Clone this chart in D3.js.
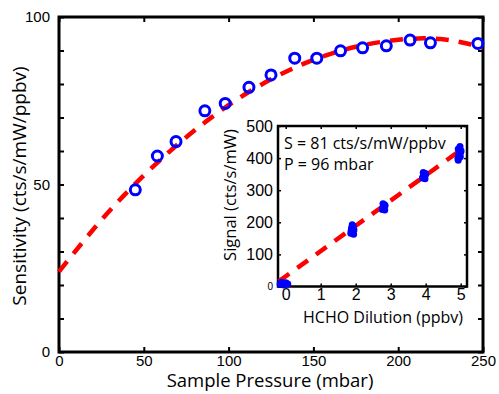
<!DOCTYPE html>
<html>
<head>
<meta charset="utf-8">
<script src="https://cdn.jsdelivr.net/npm/d3@7"></script>
<style>
  body { margin: 0; background: #fff; }
  svg { font-family: "Open Sans", sans-serif; }
  .axis text { font-size: 15px; fill: #000; }
</style>
</head>
<body>
<svg width="499" height="394"></svg>
<script>
// main plot: sensitivity vs sample pressure
var pressure = [45, 58, 69, 86, 98, 112, 125, 139, 152, 166, 179, 193, 207, 219, 247];
var sensitivity = [48.4, 58.5, 62.8, 72.0, 74.2, 79.0, 82.7, 87.7, 87.7, 89.9, 90.8, 91.4, 93.1, 92.3, 92.1];

// fitted curve
var fitPressure = [0, 25, 50, 75, 100, 125, 150, 175, 200, 225, 250];
var fitSensitivity = [24, 39.4, 52.7, 64.1, 73.7, 81.4, 87.2, 91.1, 93.2, 93.4, 91.0];

var xTicks = [0, 50, 100, 150, 200, 250];
var yTicks = [0, 10, 20, 30, 40, 50, 60, 70, 80, 90, 100];
var yLabels = [0, 50, 100];

// inset: signal vs HCHO dilution (clusters of repeated readings)
var dilution = [-0.16, -0.1, -0.04, 0.02, 0.06, -0.12, -0.06, 0.0,
                1.86, 1.91, 1.95, 1.88, 1.93, 1.87, 1.94, 1.9, 1.92,
                2.76, 2.8, 2.84, 2.78, 2.83, 2.8, 2.77, 2.82,
                3.91, 3.95, 4.0, 3.93, 3.98, 3.95, 3.92, 3.99,
                4.92, 4.95, 5.0, 4.93, 4.98, 4.95, 5.01, 4.93, 4.97, 4.99];
var signal = [8, 10, 7, 9, 8, 13, 5, 12,
              166, 170, 176, 182, 188, 174, 163, 192, 179,
              240, 246, 252, 258, 238, 250, 244, 255,
              338, 344, 350, 355, 336, 347, 341, 352,
              398, 408, 418, 428, 436, 413, 423, 393, 431, 404];
var fitDilution = [-0.2, 5.0];
var fitSignal = [16, 425];

var insetXTicks = [0, 1, 2, 3, 4, 5];
var insetYTicks = [0, 100, 200, 300, 400, 500];
var insetText = ['S = 81 cts/s/mW/ppbv', 'P = 96 mbar'];

var svg = d3.select('svg');

var x = d3.scaleLinear().domain([0, 250]).range([59, 483]);
var y = d3.scaleLinear().domain([0, 100]).range([352, 17]);

// axes with inward ticks
svg.append('g')
    .attr('class', 'axis')
    .attr('transform', 'translate(0,352)')
    .call(d3.axisBottom(x).tickValues(xTicks).tickSize(-5).tickPadding(3))
    .call(function(g) { g.select('.domain').remove(); });

svg.append('g')
    .attr('class', 'axis')
    .attr('transform', 'translate(0,17)')
    .call(d3.axisTop(x).tickValues(xTicks).tickSize(-5).tickFormat(''))
    .call(function(g) { g.select('.domain').remove(); });

svg.append('g')
    .attr('class', 'axis')
    .attr('transform', 'translate(59,0)')
    .call(d3.axisLeft(y).tickValues(yTicks).tickSize(-5).tickPadding(9)
        .tickFormat(function(d) { return yLabels.indexOf(d) >= 0 ? d : ''; }))
    .call(function(g) { g.select('.domain').remove(); });

svg.append('g')
    .attr('class', 'axis')
    .attr('transform', 'translate(483,0)')
    .call(d3.axisRight(y).tickValues(yTicks).tickSize(-5).tickFormat(''))
    .call(function(g) { g.select('.domain').remove(); });

svg.selectAll('.axis line').attr('stroke', '#000').attr('stroke-width', 2);

svg.append('rect')
    .attr('x', 59).attr('y', 17)
    .attr('width', 483 - 59).attr('height', 352 - 17)
    .attr('fill', 'none')
    .attr('stroke', '#000')
    .attr('stroke-width', 3);

var mainLine = d3.line()
    .x(function(d, i) { return x(fitPressure[i]); })
    .y(function(d, i) { return y(fitSensitivity[i]); })
    .curve(d3.curveNatural);

svg.append('path')
    .datum(fitPressure)
    .attr('d', mainLine)
    .attr('fill', 'none')
    .attr('stroke', '#ff0000')
    .attr('stroke-width', 4.5)
    .attr('stroke-dasharray', '13,10');

svg.append('g')
    .selectAll('circle')
    .data(pressure)
    .enter().append('circle')
    .attr('cx', function(d) { return x(d); })
    .attr('cy', function(d, i) { return y(sensitivity[i]); })
    .attr('r', 5)
    .attr('fill', 'none')
    .attr('stroke', '#0000ff')
    .attr('stroke-width', 3);

svg.append('text')
    .attr('x', 270).attr('y', 387)
    .attr('text-anchor', 'middle')
    .style('font-size', '18.5px')
    .text('Sample Pressure (mbar)');

svg.append('text')
    .attr('transform', 'translate(26,186) rotate(-90)')
    .attr('text-anchor', 'middle')
    .style('font-size', '19px')
    .text('Sensitivity (cts/s/mW/ppbv)');

// inset
var ix = d3.scaleLinear().domain([-0.22, 5.18]).range([278, 467]);
var iy = d3.scaleLinear().domain([0, 500]).range([286.5, 126]);

svg.append('rect')
    .attr('x', 278).attr('y', 126)
    .attr('width', 467 - 278).attr('height', 286.5 - 126)
    .attr('fill', '#fff');

svg.append('g')
    .attr('class', 'axis inset')
    .attr('transform', 'translate(0,286.5)')
    .call(d3.axisBottom(ix).tickValues(insetXTicks).tickSize(-3).tickPadding(2)
        .tickFormat(d3.format('d')))
    .call(function(g) { g.select('.domain').remove(); });

svg.append('g')
    .attr('class', 'axis inset')
    .attr('transform', 'translate(0,126)')
    .call(d3.axisTop(ix).tickValues(insetXTicks).tickSize(-3).tickFormat(''))
    .call(function(g) { g.select('.domain').remove(); });

svg.append('g')
    .attr('class', 'axis inset iy')
    .attr('transform', 'translate(278,0)')
    .call(d3.axisLeft(iy).tickValues(insetYTicks).tickSize(-3).tickPadding(5))
    .call(function(g) { g.select('.domain').remove(); });

svg.append('g')
    .attr('class', 'axis inset')
    .attr('transform', 'translate(467,0)')
    .call(d3.axisRight(iy).tickValues(insetYTicks).tickSize(-3).tickFormat(''))
    .call(function(g) { g.select('.domain').remove(); });

svg.selectAll('.inset text').style('font-size', '16px');
svg.selectAll('.inset line').attr('stroke', '#000').attr('stroke-width', 1.5);
svg.selectAll('.iy text').filter(function(d) { return d === 0; })
    .style('font-size', '10px');

svg.append('rect')
    .attr('x', 278).attr('y', 126)
    .attr('width', 467 - 278).attr('height', 286.5 - 126)
    .attr('fill', 'none')
    .attr('stroke', '#000')
    .attr('stroke-width', 2.5);

svg.append('path')
    .datum(fitDilution)
    .attr('d', d3.line()
        .x(function(d, i) { return ix(fitDilution[i]); })
        .y(function(d, i) { return iy(fitSignal[i]); }))
    .attr('stroke', '#ff0000')
    .attr('stroke-width', 4.5)
    .attr('stroke-dasharray', '13,10');

svg.append('g')
    .selectAll('circle')
    .data(dilution)
    .enter().append('circle')
    .attr('cx', function(d) { return ix(d); })
    .attr('cy', function(d, i) { return iy(signal[i]); })
    .attr('r', 3.5)
    .attr('fill', '#0000ff');

svg.append('g')
    .selectAll('text')
    .data(insetText)
    .enter().append('text')
    .attr('x', 284)
    .attr('y', function(d, i) { return 149 + i * 21; })
    .style('font-size', '16px')
    .text(function(d) { return d; });

svg.append('text')
    .attr('x', 383).attr('y', 323)
    .attr('text-anchor', 'middle')
    .style('font-size', '16px')
    .text('HCHO Dilution (ppbv)');

svg.append('text')
    .attr('transform', 'translate(236,195) rotate(-90)')
    .attr('text-anchor', 'middle')
    .style('font-size', '16.5px')
    .text('Signal (cts/s/mW)');
</script>
</body>
</html>
